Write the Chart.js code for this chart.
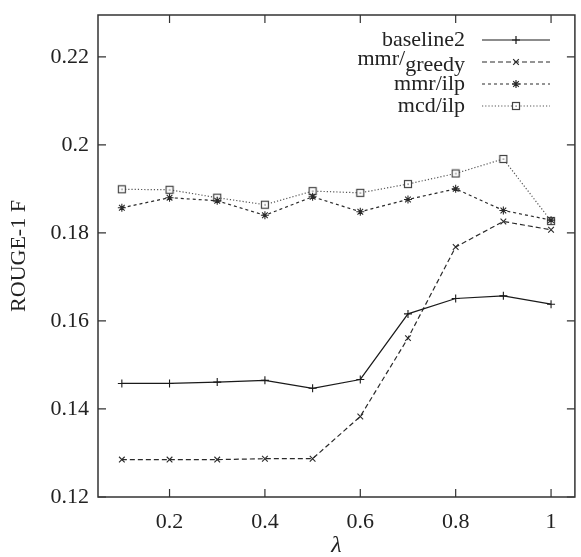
<!DOCTYPE html>
<html>
<head>
<meta charset="utf-8">
<script src="https://cdn.jsdelivr.net/npm/chart.js@4"></script>
<style>
  html, body { margin: 0; padding: 0; background: #fff; }
  #wrap { width: 581px; height: 557px; }
</style>
</head>
<body>
<div id="wrap"><canvas id="rougeChart" width="581" height="557"></canvas></div>
<script>
const FONT = "'Liberation Serif', 'DejaVu Serif', serif";
const INK  = '#222';

// data
const lambdas   = [0.1, 0.2, 0.3, 0.4, 0.5, 0.6, 0.7, 0.8, 0.9, 1.0];
const baseline2 = [0.1458, 0.1458, 0.1461, 0.1465, 0.1447, 0.1467, 0.1616, 0.1651, 0.1657, 0.1638];
const mmrGreedy = [0.1285, 0.1285, 0.1285, 0.1287, 0.1287, 0.1383, 0.1561, 0.1768, 0.1826, 0.1807];
const mmrIlp    = [0.1857, 0.1880, 0.1873, 0.1840, 0.1882, 0.1848, 0.1876, 0.1900, 0.1851, 0.1829];
const mcdIlp    = [0.1899, 0.1898, 0.1880, 0.1864, 0.1895, 0.1891, 0.1911, 0.1935, 0.1968, 0.1827];

const xTicks = [0.2, 0.4, 0.6, 0.8, 1];
const yTicks = [0.12, 0.14, 0.16, 0.18, 0.2, 0.22];

const seriesLabels = ['baseline2', 'mmr/greedy', 'mmr/ilp', 'mcd/ilp'];
const legendSub    = [null, 'greedy', null, null];   // part drawn lowered

// square marker with a dot in the middle (gnuplot style)
function squareMarker(color) {
  const c = document.createElement('canvas');
  c.width = 10; c.height = 10;
  const g = c.getContext('2d');
  g.fillStyle = '#fff';
  g.fillRect(1, 1, 8, 8);
  g.strokeStyle = color;
  g.lineWidth = 1.2;
  g.strokeRect(1.5, 1.5, 7, 7);
  g.fillStyle = color;
  g.fillRect(4.5, 4.5, 1.2, 1.2);
  return c;
}

const pts = ys => lambdas.map((x, i) => ({ x, y: ys[i] }));

const styles = [
  { color: '#1a1a1a', dash: [],       point: 'cross',    r: 4 },
  { color: '#2a2a2a', dash: [5, 3],   point: 'crossRot', r: 4 },
  { color: '#2a2a2a', dash: [3, 3],   point: 'star',     r: 4 },
  { color: '#555',    dash: [1.2, 2], point: squareMarker('#444'), r: 5 },
];
const series = [baseline2, mmrGreedy, mmrIlp, mcdIlp];

const datasets = series.map((ys, i) => ({
  label: seriesLabels[i],
  data: pts(ys),
  borderColor: styles[i].color,
  backgroundColor: styles[i].color,
  borderWidth: 1.2,
  borderDash: styles[i].dash,
  pointStyle: styles[i].point,
  pointRadius: styles[i].r,
  pointBorderWidth: 1.1,
  pointBorderColor: styles[i].color,
  tension: 0,
  fill: false,
}));

// frame with inward ticks on all four sides
const framePlugin = {
  id: 'frame',
  beforeDatasetsDraw(chart) {
    const { ctx, chartArea: a, scales: { x, y } } = chart;
    ctx.save();
    ctx.strokeStyle = '#333';
    ctx.lineWidth = 1.5;
    ctx.strokeRect(a.left, a.top, a.right - a.left, a.bottom - a.top);
    ctx.lineWidth = 1.2;
    ctx.beginPath();
    xTicks.forEach(v => {
      const px = x.getPixelForValue(v);
      ctx.moveTo(px, a.bottom); ctx.lineTo(px, a.bottom - 8);
      ctx.moveTo(px, a.top);    ctx.lineTo(px, a.top + 8);
    });
    yTicks.forEach(v => {
      const py = y.getPixelForValue(v);
      ctx.moveTo(a.left, py);  ctx.lineTo(a.left + 8, py);
      ctx.moveTo(a.right, py); ctx.lineTo(a.right - 8, py);
    });
    ctx.stroke();
    ctx.restore();
  }
};

// gnuplot-like key: text right aligned, sample on the right
const keyPlugin = {
  id: 'key',
  afterDatasetsDraw(chart) {
    const { ctx } = chart;
    const textRight = 465, x0 = 482, x1 = 550, top = 40, step = 22;
    ctx.save();
    ctx.font = '22px ' + FONT;
    ctx.textBaseline = 'middle';
    ctx.fillStyle = INK;
    chart.data.datasets.forEach((ds, i) => {
      const yy = top + i * step;
      const sub = legendSub[i];
      ctx.textAlign = 'right';
      if (sub) {
        const head = ds.label.slice(0, ds.label.length - sub.length);
        ctx.fillText(sub, textRight, yy + 3);
        const w = ctx.measureText(sub).width;
        ctx.fillText(head, textRight - w, yy - 3);
      } else {
        ctx.fillText(ds.label, textRight, yy);
      }
      ctx.strokeStyle = ds.borderColor;
      ctx.lineWidth = 1.2;
      ctx.setLineDash(ds.borderDash);
      ctx.beginPath();
      ctx.moveTo(x0, yy); ctx.lineTo(x1, yy);
      ctx.stroke();
      ctx.setLineDash([]);
      ctx.fillStyle = ds.backgroundColor;
      Chart.helpers.drawPoint(ctx, {
        pointStyle: ds.pointStyle, radius: ds.pointRadius, rotation: 0,
        borderWidth: ds.pointBorderWidth
      }, (x0 + x1) / 2, yy);
      ctx.fillStyle = INK;
    });
    ctx.restore();
  }
};

new Chart(document.getElementById('rougeChart'), {
  type: 'line',
  data: { datasets },
  plugins: [framePlugin, keyPlugin],
  options: {
    responsive: false,
    animation: false,
    devicePixelRatio: 1,
    layout: { padding: { top: 15, right: 1, left: 0, bottom: 0 } },
    plugins: { legend: { display: false }, tooltip: { enabled: false } },
    scales: {
      x: {
        type: 'linear', min: 0.05, max: 1.05,
        afterFit: s => { s.height = 60; s.paddingLeft = 0; s.paddingRight = 0; },
        afterBuildTicks: s => { s.ticks = xTicks.map(value => ({ value })); },
        grid: { display: false, drawTicks: false },
        border: { display: false },
        ticks: { color: INK, padding: 12, font: { family: FONT, size: 22 }, callback: v => String(v) },
        title: {
          display: true, text: 'λ', color: INK,
          font: { family: FONT, size: 24, style: 'italic', lineHeight: 0.92 },
          padding: { top: 0, bottom: 0 }
        }
      },
      y: {
        type: 'linear', min: 0.12, max: 0.2295,
        afterFit: s => { s.width = 98; s.paddingTop = 0; s.paddingBottom = 0; },
        afterBuildTicks: s => { s.ticks = yTicks.map(value => ({ value })); },
        grid: { display: false, drawTicks: false },
        border: { display: false },
        ticks: { color: INK, padding: 9, font: { family: FONT, size: 22 }, callback: v => String(v) },
        title: {
          display: true, text: 'ROUGE-1 F', color: INK,
          font: { family: FONT, size: 22 },
          padding: { top: 6, bottom: 0 }
        }
      }
    }
  }
});
</script>
</body>
</html>
